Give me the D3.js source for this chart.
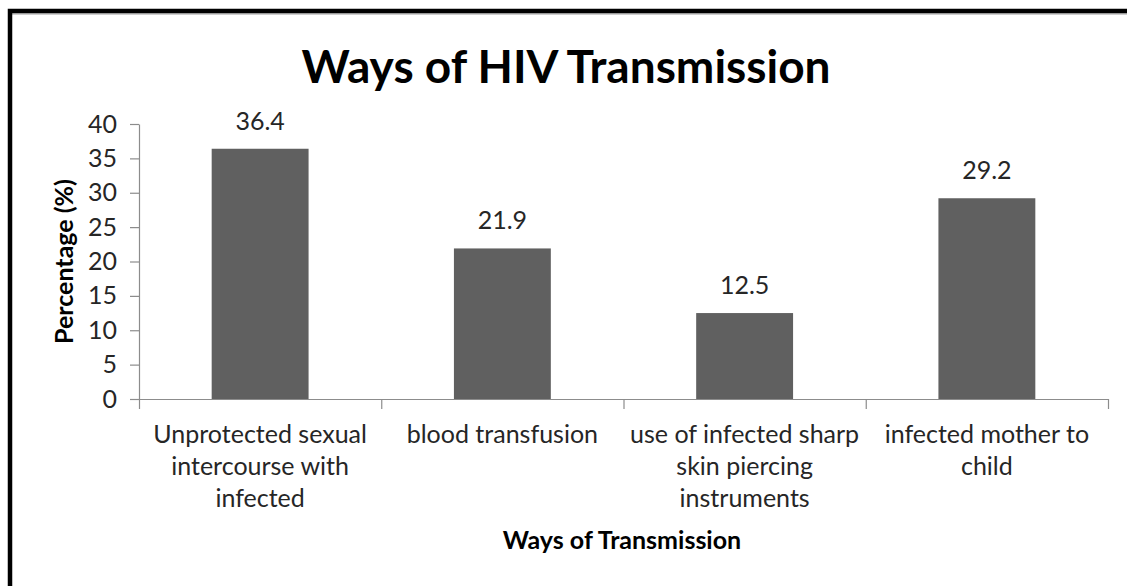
<!DOCTYPE html>
<html>
<head>
<meta charset="utf-8">
<script src="https://cdn.jsdelivr.net/npm/d3@7"></script>
<style>
  html, body { margin: 0; padding: 0; background: #fff; }
  svg { display: block; font-family: Lato, 'Open Sans', sans-serif; }
</style>
</head>
<body>
<div id="chart"></div>
<script>
const categories = [
  'Unprotected sexual intercourse with infected',
  'blood transfusion',
  'use of infected sharp skin piercing instruments',
  'infected mother to child'
]
// how Excel wrapped each category label
const categoryLines = [
  ['Unprotected sexual', 'intercourse with', 'infected'],
  ['blood transfusion'],
  ['use of infected sharp', 'skin piercing', 'instruments'],
  ['infected mother to', 'child']
]
const values = [36.4, 21.9, 12.5, 29.2]
const yTicks = [0, 5, 10, 15, 20, 25, 30, 35, 40]

const W = 1127, H = 586
const PLOT = { left: 139, right: 1108, top: 124, bottom: 399 }
const LABEL_SIZE = '25px'

const svg = d3.select('#chart').append('svg')
  .attr('width', W).attr('height', H)

// frame: only top and left edges are inside the picture
svg.append('line')
  .attr('x1', 10).attr('x2', W).attr('y1', 14).attr('y2', 14)
  .attr('stroke', '#bdbdbd').attr('stroke-width', 1.5)
svg.append('rect')
  .attr('x', 10).attr('y', 11)
  .attr('width', W + 20).attr('height', H + 20)
  .attr('fill', 'none').attr('stroke', '#000').attr('stroke-width', 4.5)

const x = d3.scaleBand()
  .domain(categories)
  .range([PLOT.left, PLOT.right])
  .paddingInner(0.6).paddingOuter(0.3)

const y = d3.scaleLinear().domain([0, 40]).range([PLOT.bottom, PLOT.top])

// y axis
svg.append('g')
  .attr('transform', `translate(${PLOT.left},0)`)
  .call(d3.axisLeft(y).tickValues(yTicks).tickSize(9).tickPadding(13).tickSizeOuter(0))
  .call(g => g.selectAll('line, path').attr('stroke', '#8c8c8c').attr('stroke-width', 1.2))
  .call(g => g.selectAll('text')
    .attr('fill', '#262626').style('font-size', LABEL_SIZE)
    .style('font-family', 'Lato, sans-serif'))

// x axis: tick marks sit on the category boundaries
const edges = d3.scaleLinear().domain([0, categories.length]).range([PLOT.left, PLOT.right])
svg.append('g')
  .attr('transform', `translate(0,${PLOT.bottom})`)
  .call(d3.axisBottom(edges).tickValues(d3.range(categories.length + 1)).tickSize(10).tickFormat('').tickSizeOuter(0))
  .call(g => g.selectAll('line, path').attr('stroke', '#8c8c8c').attr('stroke-width', 1.2))

// bars
svg.append('g').selectAll('rect')
  .data(values)
  .join('rect')
  .attr('x', (d, i) => x(categories[i]))
  .attr('width', x.bandwidth())
  .attr('y', d => y(d))
  .attr('height', d => y(0) - y(d))
  .attr('fill', '#606060')

// value labels
svg.append('g').selectAll('text')
  .data(values)
  .join('text')
  .attr('x', (d, i) => x(categories[i]) + x.bandwidth() / 2)
  .attr('y', d => y(d) - 19)
  .attr('text-anchor', 'middle')
  .attr('fill', '#262626')
  .style('font-size', LABEL_SIZE)
  .text(d => d.toFixed(1))

// category labels
const catG = svg.append('g')
categoryLines.forEach((lines, i) => {
  const t = catG.append('text')
    .attr('text-anchor', 'middle')
    .attr('fill', '#262626')
    .style('font-size', LABEL_SIZE)
  lines.forEach((ln, j) => {
    t.append('tspan')
      .attr('x', x(categories[i]) + x.bandwidth() / 2)
      .attr('y', 443 + j * 32)
      .text(ln)
  })
})

// title
svg.append('text')
  .attr('x', 566).attr('y', 83)
  .attr('text-anchor', 'middle')
  .attr('fill', '#000')
  .style('font-size', '46px').style('font-weight', 'bold')
  .text('Ways of HIV Transmission')

// axis titles
svg.append('text')
  .attr('x', 622).attr('y', 549)
  .attr('text-anchor', 'middle')
  .attr('fill', '#000')
  .style('font-size', '25px').style('font-weight', 'bold')
  .text('Ways of Transmission')

svg.append('text')
  .attr('transform', `translate(73,${(PLOT.top + PLOT.bottom) / 2}) rotate(-90)`)
  .attr('text-anchor', 'middle')
  .attr('fill', '#000')
  .style('font-size', '25px').style('font-weight', 'bold')
  .text('Percentage (%)')
</script>
</body>
</html>
